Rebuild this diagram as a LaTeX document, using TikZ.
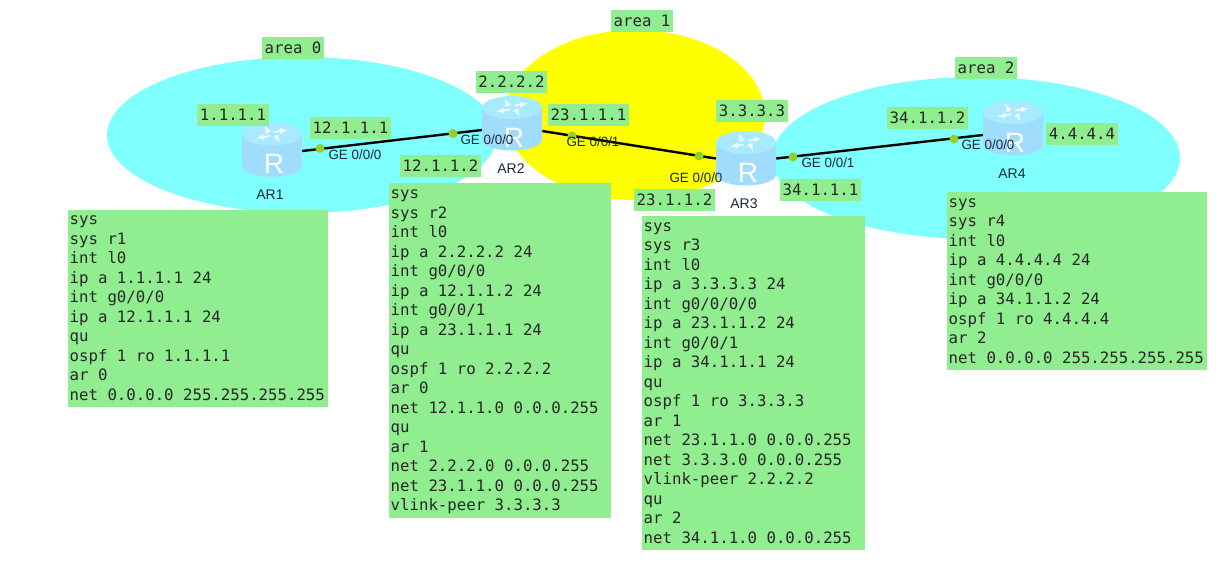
\documentclass[tikz,border=0pt]{standalone}
\usepackage{fontspec}
\setmainfont{Liberation Sans}
\setmonofont{DejaVu Sans Mono}
\usepackage{tikz}
\definecolor{boxgreen}{HTML}{90EE90}
\definecolor{areacyan}{HTML}{80FFFF}
\definecolor{areayellow}{HTML}{FFFF00}
\definecolor{portdot}{HTML}{93D029}
\definecolor{portink}{HTML}{1C2838}
\definecolor{routeredge}{HTML}{A0DCFC}
\definecolor{routermid}{HTML}{78C2F8}
\definecolor{routertop}{HTML}{A8EAFF}
\tikzset{
    every picture/.style={x=1pt,y=-1pt},
    iplabel/.style={fill=boxgreen,font=\ttfamily\fontsize{15.7}{19}\selectfont,text=black!85,inner xsep=2.5pt,inner ysep=0pt,minimum height=22pt},
    cfgbox/.style={fill=boxgreen,font=\ttfamily\fontsize{15.7}{19.5}\selectfont,text=black!85,align=left,anchor=north west,inner xsep=1.5pt,inner ysep=0pt,execute at begin node={\spaceskip=0pt\xspaceskip=0pt\relax\strut},execute at end node={\strut}},
    routerbox/.style={minimum width=60pt,minimum height=54pt,inner sep=0pt},
    portlabel/.style={font=\fontsize{13.4}{15}\selectfont,text=portink,inner sep=0pt},
    namelabel/.style={font=\fontsize{14}{16}\selectfont,text=portink,inner sep=0pt},
    portmark/.style={circle,fill=portdot,minimum size=9pt,inner sep=0pt},
    link/.style={line width=2.4pt,black},
}
% router icon, sits on the node given
\newcommand{\routericon}[1]{
    \begin{scope}[shift={(#1.center)}]
        \path[left color=routeredge,middle color=routermid,right color=routeredge]
            (-30,-16) -- (-30,16) arc[start angle=180,end angle=360,x radius=30pt,y radius=11pt] -- (30,-16) -- cycle;
        \fill[routertop] (0,-16) ellipse [x radius=30,y radius=11.5];
        \foreach \ang in {15,105,195,285}
            \draw[white,opacity=.85,line width=1.6pt,-latex,shift={(0,-16)},yscale=.55,rotate=\ang] (3,-3) -- (17,-3);
        \path (2,14) node[text=white,inner sep=0pt,font=\fontsize{28}{28}\selectfont] {R};
    \end{scope}
}

\begin{document}
\begin{tikzpicture}
    \useasboundingbox (0,0) rectangle (1232,579);
    % areas
    \fill[areacyan] (302,135) ellipse [x radius=195,y radius=78];
    \fill[areayellow] (635,115) ellipse [x radius=130,y radius=85];
    \fill[areacyan] (976,158) ellipse [x radius=204,y radius=81];

    \node[routerbox] (ar1) at (272,150) {};
    \node[routerbox] (ar2) at (512,123.5) {};
    \node[routerbox] (ar3) at (746,158.5) {};
    \node[routerbox] (ar4) at (1013,128.5) {};

    \draw[link] ([yshift=-1pt]ar1.east) -- ([yshift=-6.5pt]ar2.west);
    \draw[link] ([yshift=-7.5pt]ar2.east) -- (ar3.west);
    \draw[link] (ar3.east) -- ([yshift=-6.5pt]ar4.west);

    \routericon{ar1}
    \routericon{ar2}
    \routericon{ar3}
    \routericon{ar4}

    \node[portmark] (p12a) at (320,148.5) {};
    \node[portmark] (p12b) at (453,133.5) {};
    \node[portmark] (p23a) at (572,136) {};
    \node[portmark] (p23b) at (699,156) {};
    \node[portmark] (p34a) at (793,157) {};
    \node[portmark] (p34b) at (954,139) {};

    \node[portlabel] (ge1) at (355,154.5) {GE 0/0/0};
    \node[portlabel] (ge2a) at (487,140) {GE 0/0/0};
    \node[portlabel] (ge2b) at (593,142) {GE 0/0/1};
    \node[portlabel] (ge3a) at (696,178) {GE 0/0/0};
    \node[portlabel] (ge3b) at (828,163) {GE 0/0/1};
    \node[portlabel] (ge4) at (988,145) {GE 0/0/0};

    \node[namelabel] (name1) at (270,195) {AR1};
    \node[namelabel] (name2) at (511,169) {AR2};
    \node[namelabel] (name3) at (744,204) {AR3};
    \node[namelabel] (name4) at (1012,174) {AR4};

    \node[iplabel] (area0) at (293,48) {area 0};
    \node[iplabel] (area1) at (642,21) {area 1};
    \node[iplabel] (area2) at (986,68) {area 2};
    \node[iplabel] (id1) at (233,115) {1.1.1.1};
    \node[iplabel] (id2) at (511.5,82) {2.2.2.2};
    \node[iplabel] (id3) at (752,111) {3.3.3.3};
    \node[iplabel] (id4) at (1082,133.5) {4.4.4.4};
    \node[iplabel] (ip12a) at (350.5,127.5) {12.1.1.1};
    \node[iplabel] (ip12b) at (440.5,166) {12.1.1.2};
    \node[iplabel] (ip23a) at (588.5,114.5) {23.1.1.1};
    \node[iplabel] (ip23b) at (674.5,199.5) {23.1.1.2};
    \node[iplabel] (ip34a) at (820.5,189.5) {34.1.1.1};
    \node[iplabel] (ip34b) at (927.5,117.5) {34.1.1.2};

    \node[cfgbox,text width=257pt,minimum height=197pt] (cfg1) at (68,210) {sys\\sys r1\\int l0\\ip a 1.1.1.1 24\\int g0/0/0\\ip a 12.1.1.1 24\\qu\\ospf 1 ro 1.1.1.1\\ar 0\\net 0.0.0.0 255.255.255.255};
    \node[cfgbox,text width=219pt,minimum height=335pt] (cfg2) at (389,183) {sys\\sys r2\\int l0\\ip a 2.2.2.2 24\\int g0/0/0\\ip a 12.1.1.2 24\\int g0/0/1\\ip a 23.1.1.1 24\\qu\\ospf 1 ro 2.2.2.2\\ar 0\\net 12.1.1.0 0.0.0.255\\qu\\ar 1\\net 2.2.2.0 0.0.0.255\\net 23.1.1.0 0.0.0.255\\vlink-peer 3.3.3.3};
    \node[cfgbox,text width=220pt,minimum height=334pt] (cfg3) at (642,216) {sys\\sys r3\\int l0\\ip a 3.3.3.3 24\\int g0/0/0/0\\ip a 23.1.1.2 24\\int g0/0/1\\ip a 34.1.1.1 24\\qu\\ospf 1 ro 3.3.3.3\\ar 1\\net 23.1.1.0 0.0.0.255\\net 3.3.3.0 0.0.0.255\\vlink-peer 2.2.2.2\\qu\\ar 2\\net 34.1.1.0 0.0.0.255};
    \node[cfgbox,text width=257pt,minimum height=178pt] (cfg4) at (947,192) {sys\\sys r4\\int l0\\ip a 4.4.4.4 24\\int g0/0/0\\ip a 34.1.1.2 24\\ospf 1 ro 4.4.4.4\\ar 2\\net 0.0.0.0 255.255.255.255};
\end{tikzpicture}
\end{document}
